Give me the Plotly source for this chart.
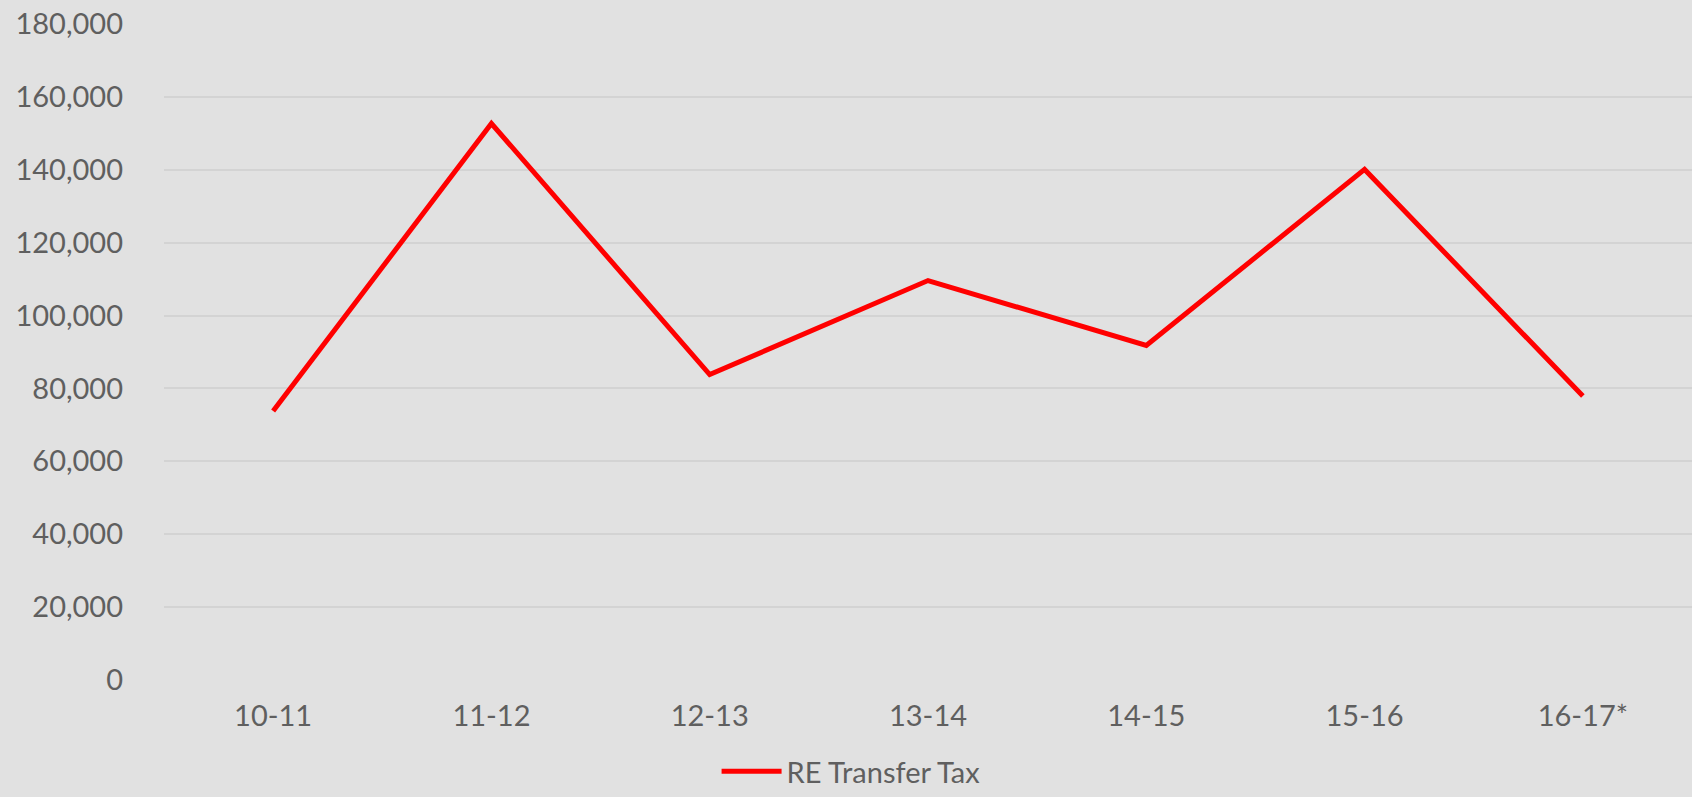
import plotly.graph_objects as go

categories = ["10-11", "11-12", "12-13", "13-14", "14-15", "15-16", "16-17*"]
re_transfer_tax = [73800, 152700, 83800, 109600, 91800, 140100, 77900]
y_ticks = [0, 20000, 40000, 60000, 80000, 100000, 120000, 140000, 160000, 180000]
series_name = "RE Transfer Tax"

FONT = "Lato, 'Noto Sans', sans-serif"
TEXT = "#5f5f5f"

fig = go.Figure()
fig.add_trace(go.Scatter(
    x=categories, y=re_transfer_tax, mode="lines", name=series_name,
    line=dict(color="#ff0000", width=5),
))

fig.update_layout(
    width=1692, height=797,
    margin=dict(l=164, r=0, t=24, b=117),
    paper_bgcolor="#e1e1e1", plot_bgcolor="#e1e1e1",
    font=dict(family=FONT, size=29, color=TEXT),
    showlegend=True,
    legend=dict(orientation="h", x=0.503, xref="container", xanchor="center",
                y=0.0, yref="container", yanchor="bottom",
                font=dict(size=29, color=TEXT), itemwidth=60,
                bgcolor="rgba(0,0,0,0)"),
    xaxis=dict(type="category", range=[-0.5, len(categories) - 0.5],
               showgrid=False, zeroline=False, showline=False,
               ticks="", tickfont=dict(size=29, color=TEXT), ticklabelstandoff=16),
    yaxis=dict(range=[0, 180000], tickvals=y_ticks, tickformat=",",
               showgrid=True, gridcolor="#d3d3d3", gridwidth=1.5,
               zeroline=False, showline=False, ticks="",
               tickfont=dict(size=29, color=TEXT), ticklabelstandoff=40),
)

fig.write_html("out.html", config={"displayModeBar": False},
               post_script="document.body.style.margin='0';document.body.style.overflow='hidden';document.body.style.background='#e1e1e1';")
